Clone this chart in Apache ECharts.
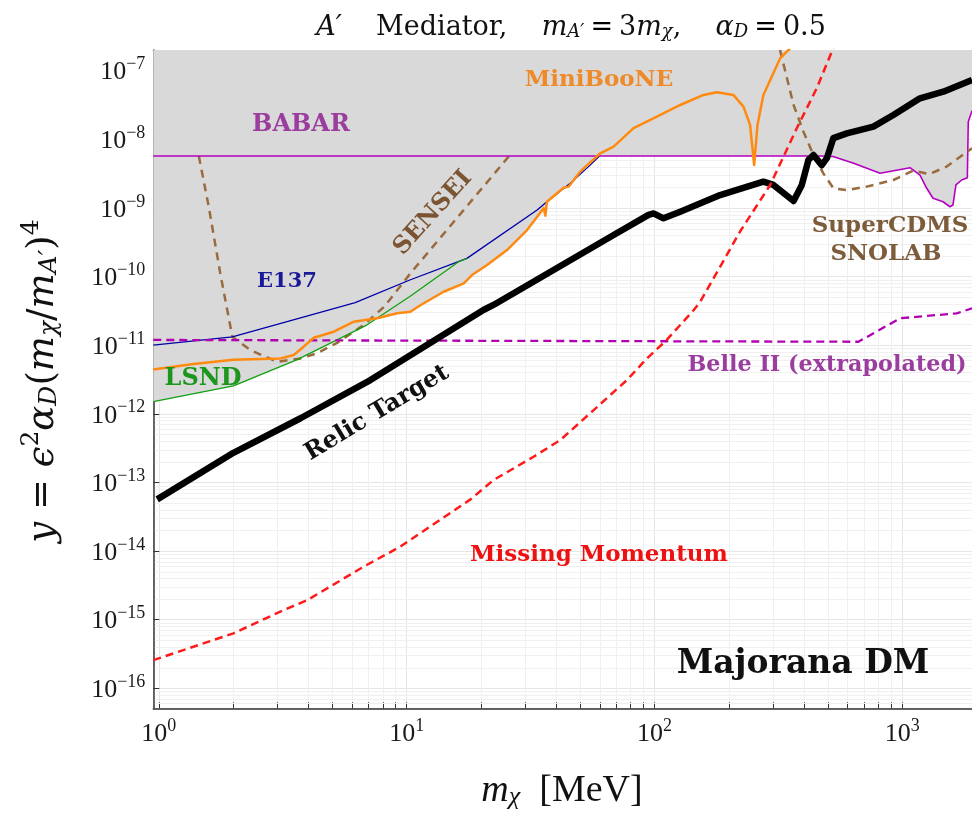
<!DOCTYPE html>
<html>
<head>
<meta charset="utf-8">
<script src="https://cdn.jsdelivr.net/npm/echarts@6/dist/echarts.min.js"></script>
<style>
  html, body { margin: 0; padding: 0; background: #ffffff; }
  #chart { width: 972px; height: 814px; }
</style>
</head>
<body>
<div id="chart"></div>
<script>
// Curves are [m_chi in MeV, y] pairs.
const babar = [
  [0.95, 5.7e-9], [466, 5.7e-9], [525, 5.6e-9], [632, 4.5e-9], [813, 3.2e-9],
  [1074, 3.85e-9], [1178, 3.0e-9], [1254, 1.93e-9], [1330, 1.38e-9], [1459, 1.23e-9],
  [1556, 1.04e-9], [1600, 1.1e-9], [1645, 2.16e-9], [1735, 2.55e-9], [1829, 2.75e-9],
  [1845, 1.8e-8], [1910, 2.6e-8]
];
const e137 = [
  [0.95, 1.0e-11], [1.98, 1.32e-11], [6.2, 4.15e-11], [10.3, 8.9e-11], [17.5, 1.84e-10],
  [33.6, 9.3e-10], [36.8, 1.23e-9], [45.7, 2.29e-9], [55, 4.2e-9], [60, 5.7e-9]
];
const lsnd = [
  [0.95, 1.5e-12], [2.0, 2.54e-12], [3.6, 6.1e-12], [6.9, 1.96e-11], [10.3, 5.1e-11],
  [16.2, 1.64e-10], [17.5, 1.84e-10]
];
const miniboone = [
  [0.95, 4.4e-12], [1.38, 5.3e-12], [2.0, 6.1e-12], [3.1, 6.4e-12], [3.5, 7.2e-12],
  [3.84, 9.5e-12], [4.22, 1.28e-11], [5.08, 1.57e-11], [6.1, 2.19e-11], [7.6, 2.46e-11],
  [9.15, 2.91e-11], [10.35, 3.07e-11], [11.4, 3.84e-11], [14.1, 6.0e-11], [17.0, 7.96e-11],
  [18.35, 1.05e-10], [21.1, 1.47e-10], [25.4, 2.43e-10], [30.6, 4.76e-10], [35.7, 9.9e-10],
  [36.3, 7.7e-10], [36.8, 1.23e-9], [43, 1.97e-9], [45, 2.04e-9], [50.1, 3.37e-9],
  [60.4, 6.25e-9], [68.4, 7.8e-9], [82.3, 1.45e-8], [102.3, 2.13e-8], [127, 3.16e-8],
  [157.6, 4.43e-8], [178.5, 4.85e-8], [208, 4.43e-8], [228.5, 2.99e-8], [243, 1.62e-8],
  [252.4, 4.2e-9], [260.3, 1.62e-8], [275, 4.43e-8], [297.4, 8.2e-8], [321.4, 1.52e-7],
  [352, 2.1e-7]
];
const sensei = [
  [1.45, 5.7e-9], [1.59, 1.04e-9], [1.77, 1.11e-10], [1.98, 1.32e-11], [2.34, 8.5e-12],
  [3.0, 5.7e-12], [3.73, 6.4e-12], [4.35, 7.6e-12], [5.24, 1.08e-11], [6.7, 1.96e-11],
  [8.1, 3.6e-11], [10.35, 1.11e-10], [25.8, 5.6e-9]
];
const supercdms = [
  [321, 2.0e-7], [364, 3.16e-8], [399, 1.29e-8], [438, 5.9e-9], [480, 3.19e-9],
  [527, 1.93e-9], [597, 1.82e-9], [718, 2.04e-9], [920, 2.55e-9], [1107, 3.5e-9],
  [1282, 3.1e-9], [1510, 4.0e-9], [1910, 7.4e-9]
];
const belle2 = [
  [0.95, 1.19e-11], [665, 1.12e-11], [979, 2.46e-11], [1656, 2.91e-11], [1910, 3.43e-11]
];
const missingMomentum = [
  [0.95, 2.57e-16], [2.0, 6.3e-16], [3.19, 1.38e-15], [3.97, 1.92e-15], [6.7, 5.9e-15],
  [9.4, 1.15e-14], [18.1, 5.65e-14], [22.4, 1.08e-13], [32.5, 2.36e-13], [41.7, 4.14e-13],
  [56.8, 1.13e-12], [77.4, 3.1e-12], [93.2, 6.4e-12], [112, 1.19e-11], [144, 3.25e-11],
  [153, 4.3e-11], [222, 4.6e-10], [293, 2.16e-9], [375, 1.45e-8], [451, 5.5e-8],
  [519, 1.89e-7], [540, 2.6e-7]
];
const relicTarget = [
  [0.985, 5.65e-14], [2.0, 2.7e-13], [3.73, 8.6e-13], [7.14, 3.1e-12], [20.4, 3.25e-11],
  [22.4, 3.85e-11], [68.4, 4.03e-10], [94.6, 7.9e-10], [99.1, 8.3e-10], [108.7, 7.05e-10],
  [127, 8.8e-10], [184, 1.54e-9], [275, 2.41e-9], [302, 2.16e-9], [364, 1.26e-9],
  [393, 2.16e-9], [418, 5.0e-9], [438, 5.9e-9], [473, 4.2e-9], [496, 5.3e-9],
  [527, 1.04e-8], [597, 1.22e-8], [764, 1.53e-8], [920, 2.26e-8], [1178, 3.96e-8],
  [1463, 4.94e-8], [1910, 7.3e-8]
];
// Lower edge of the shaded (already excluded) region.
const excludedEdge = [
  [0.95, 1.5e-12], [2.0, 2.54e-12], [3.6, 6.1e-12], [6.9, 1.96e-11], [7.6, 2.46e-11],
  [9.15, 2.91e-11], [10.35, 3.07e-11], [11.4, 3.84e-11], [14.1, 6.0e-11], [17.0, 7.96e-11],
  [18.35, 1.05e-10], [21.1, 1.47e-10], [25.4, 2.43e-10], [30.6, 4.76e-10], [35.7, 9.3e-10],
  [36.8, 1.23e-9], [43, 1.97e-9], [45, 2.04e-9], [50.1, 3.37e-9], [57.5, 5.7e-9],
  [466, 5.7e-9], [525, 5.6e-9], [632, 4.5e-9], [813, 3.2e-9], [1074, 3.85e-9],
  [1178, 3.0e-9], [1254, 1.93e-9], [1330, 1.38e-9], [1459, 1.23e-9], [1556, 1.04e-9],
  [1600, 1.1e-9], [1645, 2.16e-9], [1735, 2.55e-9], [1829, 2.75e-9], [1845, 1.8e-8],
  [1910, 2.6e-8]
];

// Axis ranges and log tick layout
const xRange = [0.95, 1910];
const yRange = [5.1e-17, 2e-7];
const minorMantissas = [2, 3, 4, 5, 6, 7, 8, 9];
const xDecades = [-1, 0, 1, 2, 3];
const yDecades = [-17, -16, -15, -14, -13, -12, -11, -10, -9, -8, -7];

function minorValues(decades, range) {
  const out = [];
  decades.forEach(function (d) {
    minorMantissas.forEach(function (m) {
      const v = m * Math.pow(10, d);
      if (v > range[0] * 1.001 && v < range[1] * 0.999) out.push(v);
    });
  });
  return out;
}
const xMinor = minorValues(xDecades, xRange).map(function (v) { return [v, yRange[0]]; });
const yMinor = minorValues(yDecades, yRange).map(function (v) { return [xRange[0], v]; });

const SERIF = '"Liberation Serif", "DejaVu Serif", serif';
const WIDE_SERIF = '"DejaVu Serif", "Liberation Serif", serif';

function powerLabel(v) {
  if (!(v > 0)) return '';
  const e = Math.log10(v);
  const r = Math.round(e);
  if (Math.abs(e - r) > 1e-6) return '';
  return '{b|10}{s|' + (r < 0 ? '\u2212' + (-r) : String(r)) + '}';
}
const tickRich = {
  b: { fontFamily: SERIF, fontSize: 26, lineHeight: 30, verticalAlign: 'bottom', color: '#1a1a1a' },
  s: { fontFamily: SERIF, fontSize: 18, lineHeight: 13, verticalAlign: 'top', color: '#1a1a1a' }
};

// Rich-text styles for inline math: upright, italic, subscript, superscript
function mathRich(size, family) {
  const L = size + 6;
  const small = Math.round(size * 0.68);
  return {
    r: { fontFamily: family, fontSize: size, lineHeight: L, verticalAlign: 'bottom', fill: '#111' },
    i: { fontFamily: family, fontStyle: 'italic', fontSize: size, lineHeight: L, verticalAlign: 'bottom', fill: '#111' },
    sub: { fontFamily: family, fontStyle: 'italic', fontSize: small, lineHeight: Math.round(0.48 * size + 6), verticalAlign: 'bottom', fill: '#111' },
    sup: { fontFamily: family, fontSize: small, lineHeight: Math.round(0.4 * size + 6), verticalAlign: 'top', fill: '#111' },
    gap: { fontFamily: family, fontSize: size, lineHeight: L, verticalAlign: 'bottom', padding: [0, 6, 0, 6] }
  };
}

function renderXMinor(params, api) {
  const cs = params.coordSys;
  const x = Math.round(api.coord([api.value(0), yRange[0]])[0]) + 0.5;
  const bottom = cs.y + cs.height;
  return {
    type: 'group',
    children: [
      { type: 'line', shape: { x1: x, y1: cs.y + 1, x2: x, y2: bottom - 1 }, style: { stroke: '#f0f0f0', lineWidth: 1 } },
      { type: 'line', shape: { x1: x, y1: bottom, x2: x, y2: bottom - 6 }, style: { stroke: '#333', lineWidth: 1 } }
    ]
  };
}
function renderYMinor(params, api) {
  const cs = params.coordSys;
  const y = Math.round(api.coord([xRange[0], api.value(1)])[1]) + 0.5;
  return {
    type: 'line',
    shape: { x1: cs.x + 1.5, y1: y, x2: cs.x + cs.width, y2: y },
    style: { stroke: '#f0f0f0', lineWidth: 1 }
  };
}

function curve(name, data, color, width, dashed, z) {
  return {
    name: name, type: 'line', data: data, symbol: 'none', z: z, silent: true,
    lineStyle: { color: color, width: width, type: dashed ? dashed : 'solid', cap: 'butt', join: 'round' }
  };
}

function label(text, x, y, color, size, rotationDeg) {
  return {
    type: 'text', x: x, y: y, rotation: (rotationDeg || 0) * Math.PI / 180, z: 100,
    style: {
      text: text, fill: color, font: 'bold ' + size + 'px ' + WIDE_SERIF,
      align: 'center', verticalAlign: 'middle'
    }
  };
}

const chart = echarts.init(document.getElementById('chart'), null, { renderer: 'canvas' });

chart.setOption({
  animation: false,
  backgroundColor: '#ffffff',
  grid: { left: 153.3, right: 0, top: 50, bottom: 105.7, containLabel: false },
  xAxis: [{
    type: 'log', min: xRange[0], max: xRange[1], splitNumber: 10,
    axisLine: { show: true, onZero: false, lineStyle: { color: '#333', width: 1.5 } },
    axisTick: { show: true, inside: true, length: 6, lineStyle: { color: '#333', width: 1 } },
    axisLabel: { formatter: powerLabel, rich: tickRich, margin: 9, showMinLabel: false, showMaxLabel: false },
    splitLine: { show: true, lineStyle: { color: '#e6e6e6', width: 1 } },
    minorTick: { show: false }, minorSplitLine: { show: false }
  }, {
    type: 'log', position: 'top', min: xRange[0], max: xRange[1],
    axisLine: { show: true, onZero: false, lineStyle: { color: '#111', width: 1 } },
    axisTick: { show: false }, axisLabel: { show: false }, splitLine: { show: false }
  }],
  yAxis: {
    type: 'log', min: yRange[0], max: yRange[1], splitNumber: 12,
    axisLine: { show: true, onZero: false, lineStyle: { color: '#333', width: 1.5 } },
    axisTick: { show: true, inside: true, length: 6, lineStyle: { color: '#333', width: 1 } },
    axisLabel: { formatter: powerLabel, rich: tickRich, margin: 8, showMinLabel: false, showMaxLabel: false },
    splitLine: { show: true, lineStyle: { color: '#e6e6e6', width: 1 } }
  },
  series: [
    { type: 'custom', name: 'x minor grid', data: xMinor, renderItem: renderXMinor, z: 1, silent: true },
    { type: 'custom', name: 'y minor grid', data: yMinor, renderItem: renderYMinor, z: 1, silent: true },
    {
      name: 'excluded', type: 'line', data: excludedEdge, symbol: 'none', z: 2, silent: true,
      lineStyle: { width: 0 },
      areaStyle: { color: '#d9d9d9', opacity: 1, origin: 'end' }
    },
    curve('SENSEI', sensei, '#9a6b3f', 2.5, [8, 6], 3),
    curve('E137', e137, '#0000a8', 1.3, null, 3),
    curve('LSND', lsnd, '#12a012', 1.3, null, 3),
    curve('BABAR', babar, '#b400c0', 1.6, null, 4),
    curve('SuperCDMS SNOLAB', supercdms, '#9a6b3f', 2.5, [8, 6], 4),
    curve('Belle II', belle2, '#b000b0', 2.3, [8, 5], 4),
    curve('MiniBooNE', miniboone, '#ff8a10', 2.5, null, 5),
    curve('Relic Target', relicTarget, '#000000', 6.5, null, 6),
    curve('Missing Momentum', missingMomentum, '#ff1a1a', 2.5, [8, 5], 7)
  ],
  graphic: [
    {
      type: 'text', x: 571, y: 25, z: 100,
      style: {
        text: '{i|A\u2032}{r|    Mediator,    }{i|m}{sub|A\u2032}{gap|=}{r|3}{i|m}{sub|\u03c7}{r|,    }{i|\u03b1}{sub|D}{gap|=}{r|0.5}',
        rich: mathRich(27, WIDE_SERIF), align: 'center', verticalAlign: 'middle'
      }
    },
    {
      type: 'text', x: 562, y: 788, z: 100,
      style: {
        text: '{i|m}{sub|\u03c7}{r|  [MeV]}',
        rich: mathRich(38, SERIF), align: 'center', verticalAlign: 'middle'
      }
    },
    {
      type: 'text', x: 40, y: 381, rotation: Math.PI / 2, z: 100,
      style: {
        text: '{i|y}{r| = }{i|\u03f5}{sup|2}{i|\u03b1}{sub|D}{r|(}{i|m}{sub|\u03c7}{r|/}{i|m}{sub|A\u2032}{r|)}{sup|4}',
        rich: mathRich(37, WIDE_SERIF), align: 'center', verticalAlign: 'middle'
      }
    },
    label('BABAR', 301, 125, '#9a3d9f', 24),
    label('MiniBooNE', 599, 80, '#ee8a2a', 23),
    label('E137', 287, 282, '#1a1a99', 21),
    label('LSND', 203, 379, '#1c961c', 24),
    label('SENSEI', 433, 213, '#7b5533', 24, 48),
    label('Relic Target', 377, 413, '#111111', 24, 31),
    label('SuperCDMS', 890, 226, '#7d5c3c', 23),
    label('SNOLAB', 886, 254, '#7d5c3c', 23),
    label('Belle II (extrapolated)', 827, 365, '#9a3d9f', 22.3),
    label('Missing Momentum', 599, 555, '#ee1111', 23),
    label('Majorana DM', 803, 664, '#111111', 33)
  ]
});
</script>
</body>
</html>
